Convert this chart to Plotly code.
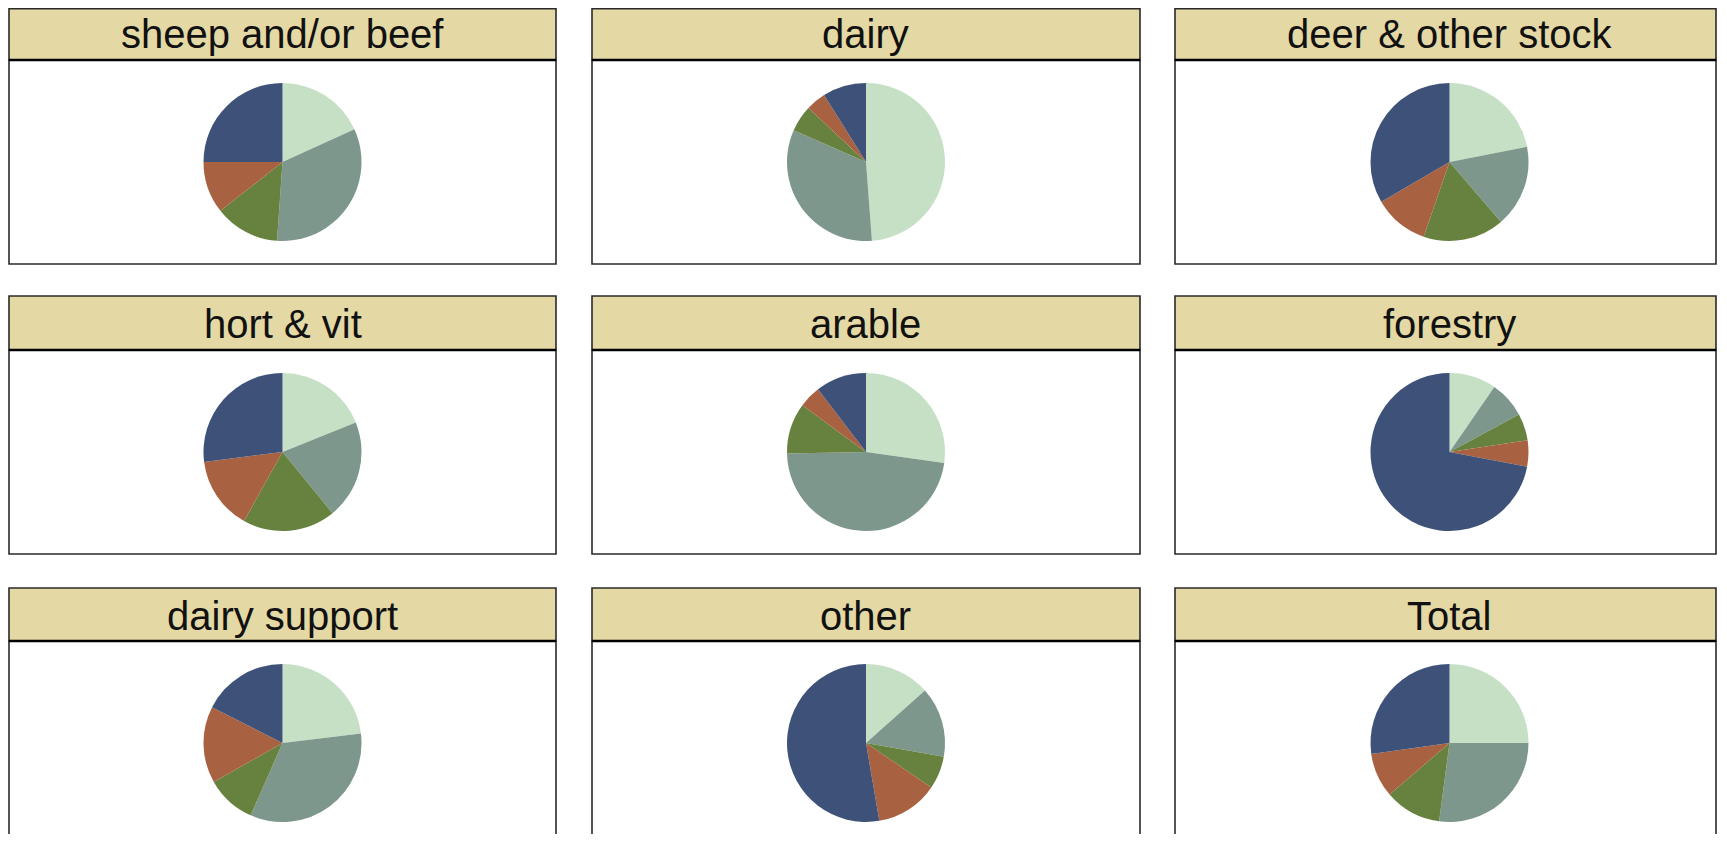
import plotly.graph_objects as go

# ---- data (shares in %, clockwise from 12 o'clock) ----
panels = ["sheep and/or beef", "dairy", "deer & other stock",
          "hort & vit", "arable", "forestry",
          "dairy support", "other", "Total"]
segments = ["segment 1", "segment 2", "segment 3", "segment 4", "segment 5"]
sheep_beef = [18.2, 32.9, 13.3, 10.6, 25.0]
dairy = [48.8, 32.8, 5.4, 4.1, 8.9]
deer_other = [21.9, 16.8, 16.6, 11.3, 33.4]
hort_vit = [18.9, 20.2, 19.0, 14.9, 27.0]
arable = [27.2, 47.5, 10.4, 4.5, 10.4]
forestry = [9.6, 7.5, 5.5, 5.4, 72.0]
dairy_support = [23.1, 33.5, 10.2, 15.7, 17.5]
other = [13.4, 14.4, 6.7, 12.8, 52.7]
total = [25.0, 27.1, 11.6, 9.1, 27.2]
values = [sheep_beef, dairy, deer_other, hort_vit, arable, forestry,
          dairy_support, other, total]
colors = ["#C6E0C6", "#7E978D", "#67823F", "#A86241", "#3E5179"]

# ---- layout geometry (page pixels; page body has an 8px margin) ----
OFF = 8
W, H = 1711, 826
col_x = [(9, 556), (592, 1140), (1175, 1716)]
row_y = [(7, 60, 264), (296, 350, 554), (588, 641, 860)]
R = 79

def px(x):
    return (x - OFF) / W

def py(y):
    return 1 - max(y - OFF, 0.8) / H

fig = go.Figure()
shapes = []
annotations = []
for i, (name, vals) in enumerate(zip(panels, values)):
    r, c = divmod(i, 3)
    x0, x1 = col_x[c]
    top, hb, bot = row_y[r]
    cx = (x0 + x1) / 2 if c < 2 else 1449.5
    cy = (hb + bot) / 2 if r < 2 else hb + (row_y[0][2] - row_y[0][1]) / 2
    fig.add_trace(go.Pie(
        labels=segments, values=vals, sort=False, direction="clockwise",
        rotation=0, textinfo="none", hoverinfo="label+percent",
        marker=dict(colors=colors, line=dict(width=0)),
        domain=dict(x=[px(cx - R), px(cx + R)], y=[py(cy + R), py(cy - R)]),
        showlegend=False, name=name,
    ))
    # body box
    shapes.append(dict(type="rect", xref="paper", yref="paper",
                       x0=px(x0), x1=px(x1), y0=py(bot), y1=py(hb),
                       line=dict(color="#2a2a2a", width=1.6), fillcolor="rgba(0,0,0,0)",
                       layer="below"))
    # header box
    shapes.append(dict(type="rect", xref="paper", yref="paper",
                       x0=px(x0), x1=px(x1), y0=py(hb), y1=py(top),
                       line=dict(color="#2a2a2a", width=1.6), fillcolor="#E4D8A4",
                       layer="below"))
    shapes.append(dict(type="line", xref="paper", yref="paper",
                       x0=px(x0), x1=px(x1), y0=py(hb), y1=py(hb),
                       line=dict(color="#000000", width=2.5)))
    annotations.append(dict(text=name, xref="paper", yref="paper",
                            x=px(cx), y=py((top + hb) / 2 + 1), xanchor="center",
                            yanchor="middle", showarrow=False,
                            font=dict(family="Liberation Sans, Arial", size=40,
                                      color="#111111")))

fig.update_layout(width=W, height=H, margin=dict(l=0, r=0, t=0, b=0),
                  paper_bgcolor="white", plot_bgcolor="white",
                  shapes=shapes, annotations=annotations)
fig.write_html("out.html")
